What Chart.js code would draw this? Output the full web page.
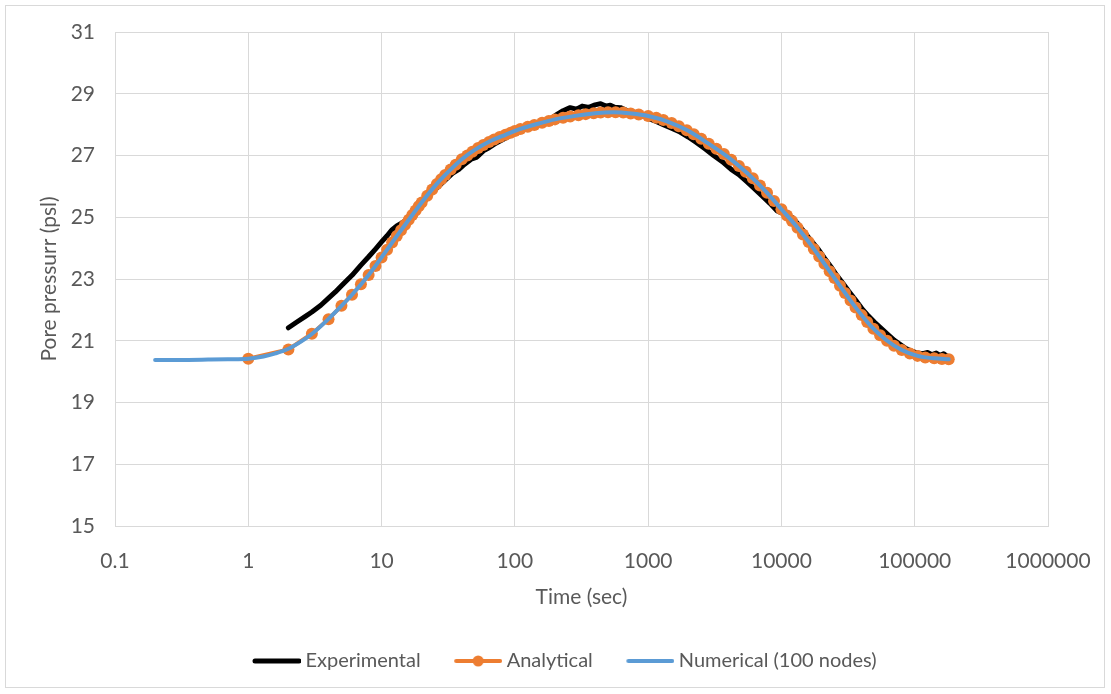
<!DOCTYPE html>
<html>
<head>
<meta charset="utf-8">
<script src="https://cdn.jsdelivr.net/npm/chart.js@4.4.1/dist/chart.umd.min.js"></script>
<style>
  html, body { margin: 0; padding: 0; background: #fff; }
  #frame {
    position: absolute; left: 5px; top: 5px;
    width: 1100px; height: 683px;
    border: 1px solid #d9d9d9; box-sizing: border-box;
  }
  canvas { display: block; }
</style>
</head>
<body>
<div id="frame"><canvas id="chart" width="1098" height="681"></canvas></div>
<script>
// time in seconds, pressure in psi
const experimentalTime = [2, 2.3, 2.7, 3, 3.5, 4, 4.5, 5, 6, 7, 8, 9, 10, 11, 12, 13, 14, 15, 16, 18, 20,
  23, 26, 30, 34, 38, 42, 47, 52, 58, 64, 72, 80, 90, 100, 115, 130, 150, 170, 190, 210, 230, 260, 290,
  320, 360, 400, 440, 480, 520, 560, 620, 700, 800, 900, 1000, 1150, 1300, 1500, 1700, 2000, 2300, 2700,
  3100, 3600, 4200, 4800, 5500, 6300, 7200, 8200, 9300, 10500, 12000, 13500, 15000, 17000, 19000, 21000,
  23500, 26000, 29000, 32000, 36000, 40000, 45000, 50000, 56000, 63000, 70000, 78000, 86000, 95000,
  105000, 115000, 125000, 135000, 145000, 155000, 165000, 175000];
const experimentalPressure = [21.42, 21.6, 21.8, 21.93, 22.15, 22.38, 22.58, 22.78, 23.12, 23.45, 23.72,
  23.97, 24.2, 24.4, 24.6, 24.72, 24.8, 24.88, 24.98, 25.2, 25.42, 25.72, 25.95, 26.2, 26.42, 26.55,
  26.72, 26.88, 26.95, 27.15, 27.25, 27.4, 27.5, 27.62, 27.72, 27.82, 27.9, 28.0, 28.1, 28.22, 28.35,
  28.45, 28.55, 28.5, 28.6, 28.56, 28.64, 28.68, 28.6, 28.63, 28.56, 28.55, 28.45, 28.35, 28.3, 28.2,
  28.1, 28.0, 27.88, 27.78, 27.6, 27.42, 27.2, 27.0, 26.8, 26.55, 26.38, 26.15, 25.92, 25.68, 25.45,
  25.2, 25.1, 25.0, 24.75, 24.5, 24.2, 23.95, 23.68, 23.4, 23.12, 22.85, 22.6, 22.32, 22.05, 21.8,
  21.6, 21.4, 21.2, 21.02, 20.88, 20.75, 20.66, 20.6, 20.58, 20.62, 20.55, 20.6, 20.52, 20.58, 20.5];

const analyticalTime = [1, 2, 3, 4, 5, 6, 7, 8, 9, 10, 11, 12, 13, 14, 15, 16, 17, 18, 19, 20,
  22, 24, 26, 28, 30, 33, 36, 40, 44, 48, 53, 58, 64, 70, 77, 85, 93, 100, 110, 125,
  140, 160, 180, 200, 230, 260, 300, 340, 390, 440, 500, 570, 650, 740, 850,
  1000, 1150, 1300, 1500, 1700, 1950, 2200, 2500, 2850, 3250, 3700, 4200, 4800, 5400, 6100,
  6900, 7800, 8800, 10000, 11000, 12000, 13200, 14500, 16000, 17500, 19200, 21000, 23000, 25000, 27500,
  30000, 33000, 36000, 40000, 44000, 49000, 55000, 62000, 70000, 80000, 92000, 105000, 120000, 140000,
  160000, 180000];
const analyticalPressure = [20.42, 20.72, 21.23, 21.70, 22.13, 22.49, 22.83, 23.13, 23.42, 23.70,
  23.95, 24.18, 24.39, 24.58, 24.76, 24.92, 25.07, 25.22, 25.36, 25.48,
  25.70, 25.90, 26.08, 26.23, 26.37, 26.55, 26.70, 26.88, 27.00, 27.12, 27.24, 27.34, 27.44, 27.52,
  27.60, 27.67, 27.74, 27.79, 27.86, 27.93,
  27.99, 28.06, 28.12, 28.17, 28.22, 28.26, 28.30, 28.34, 28.37, 28.39, 28.40, 28.40, 28.39, 28.36, 28.33,
  28.28, 28.22, 28.15, 28.05, 27.95, 27.82, 27.69, 27.54, 27.38, 27.22, 27.05, 26.86, 26.66, 26.47, 26.26,
  26.03, 25.79, 25.53, 25.26, 25.06, 24.88, 24.66, 24.44, 24.20, 23.97, 23.73, 23.49, 23.25, 23.03, 22.78,
  22.55, 22.30, 22.08, 21.83, 21.61, 21.39, 21.18, 21.00, 20.84, 20.70, 20.59, 20.51, 20.46, 20.43,
  20.41, 20.40];

const numericalTime = [0.2, 0.3, 0.5, 0.7, 1, 1.3, 1.6, 2, 2.5, 3, 4, 5, 6, 8, 10, 13, 16, 20, 25, 30,
  40, 50, 65, 85, 110, 150, 200, 280, 400, 550, 750, 1000, 1400, 2000, 2800, 4000, 5500, 7500, 10000,
  13000, 17000, 22000, 28000, 36000, 47000, 60000, 80000, 105000, 140000, 180000];
const numericalPressure = [20.38, 20.38, 20.39, 20.40, 20.42, 20.49, 20.59, 20.74, 20.98, 21.22,
  21.71, 22.13, 22.49, 23.13, 23.70, 24.39, 24.92, 25.48, 26.0, 26.37, 26.88, 27.18, 27.46, 27.67, 27.86,
  28.03, 28.17, 28.28, 28.37, 28.40, 28.36, 28.28, 28.1, 27.8, 27.4, 26.94, 26.44, 25.87, 25.26, 24.7,
  24.05, 23.37, 22.73, 22.08, 21.47, 21.05, 20.7, 20.51, 20.43, 20.40];

const timeTicks = [0.1, 1, 10, 100, 1000, 10000, 100000, 1000000];
const seriesNames = ["Experimental", "Analytical", "Numerical (100 nodes)"];
const seriesColors = ["#000000", "#ED7D31", "#5B9BD5"];

const FONT = "Lato, 'Open Sans', sans-serif";
const TEXT = "#595959";
const GRID = "#d9d9d9";

const toPoints = (xs, ys) => xs.map((x, i) => ({ x: x, y: ys[i] }));

// legend swatch: 48px line (plus dot for the analytical one), blank lead on the left
function swatch(color, width, dot) {
  const c = document.createElement("canvas");
  c.width = 77;
  c.height = 14;
  const g = c.getContext("2d");
  g.strokeStyle = color;
  g.lineWidth = width;
  g.lineCap = "round";
  g.beginPath();
  g.moveTo(31, 7);
  g.lineTo(75, 7);
  g.stroke();
  if (dot) {
    g.fillStyle = color;
    g.beginPath();
    g.arc(53, 7, 5.5, 0, Math.PI * 2);
    g.fill();
  }
  return c;
}

const legendShift = {
  id: "legendShift",
  afterLayout(chart) {
    if (chart.legend) {
      chart.legend.left += 26;
      chart.legend.right += 26;
    }
  }
};

new Chart(document.getElementById("chart"), {
  type: "line",
  data: {
    datasets: [
      {
        label: seriesNames[0],
        data: toPoints(experimentalTime, experimentalPressure),
        borderColor: seriesColors[0],
        borderWidth: 5,
        pointRadius: 0,
        borderJoinStyle: "round",
        borderCapStyle: "round",
        order: 3
      },
      {
        label: seriesNames[1],
        data: toPoints(analyticalTime, analyticalPressure),
        borderColor: seriesColors[1],
        backgroundColor: seriesColors[1],
        borderWidth: 4,
        pointRadius: 6,
        pointBorderWidth: 0,
        pointBackgroundColor: seriesColors[1],
        order: 2
      },
      {
        label: seriesNames[2],
        data: toPoints(numericalTime, numericalPressure),
        borderColor: seriesColors[2],
        borderWidth: 4,
        pointRadius: 0,
        cubicInterpolationMode: "monotone",
        borderCapStyle: "round",
        order: 1
      }
    ]
  },
  options: {
    responsive: false,
    animation: false,
    layout: { padding: { top: 26, right: 56, bottom: 6, left: 0 } },
    plugins: {
      tooltip: { enabled: false },
      legend: {
        position: "bottom",
        labels: {
          usePointStyle: true,
          pointStyleWidth: 66,
          padding: 10,
          color: TEXT,
          font: { family: FONT, size: 20 },
          generateLabels(chart) {
            return chart.data.datasets.map((ds, i) => ({
              text: ds.label,
              fontColor: TEXT,
              pointStyle: swatch(seriesColors[i], i === 0 ? 5 : 4, i === 1),
              fillStyle: seriesColors[i],
              strokeStyle: seriesColors[i],
              lineWidth: 0,
              hidden: false,
              datasetIndex: i
            }));
          }
        }
      }
    },
    scales: {
      x: {
        type: "logarithmic",
        min: 0.1,
        max: 1000000,
        afterBuildTicks(axis) {
          axis.ticks = timeTicks.map(v => ({ value: v }));
        },
        afterFit(axis) {
          axis.height = 115;
          axis.paddingLeft = 0;
          axis.paddingRight = 0;
        },
        grid: { color: GRID, drawTicks: false },
        border: { color: GRID },
        ticks: {
          padding: 23,
          color: TEXT,
          font: { family: FONT, size: 21 },
          maxRotation: 0,
          autoSkip: false,
          callback: v => String(v)
        },
        title: {
          display: true,
          text: "Time (sec)",
          color: TEXT,
          font: { family: FONT, size: 21 },
          padding: { top: 0, bottom: 31 }
        }
      },
      y: {
        min: 15,
        max: 31,
        afterFit(axis) {
          axis.width = 109;
          axis.paddingTop = 0;
          axis.paddingBottom = 0;
        },
        grid: { color: GRID, drawTicks: false },
        border: { color: GRID },
        ticks: {
          stepSize: 2,
          padding: 20,
          color: TEXT,
          font: { family: FONT, size: 21 }
        },
        title: {
          display: true,
          text: "Pore pressurr (psl)",
          color: TEXT,
          font: { family: FONT, size: 21 },
          padding: { top: 31, bottom: 0 }
        }
      }
    }
  },
  plugins: [legendShift]
});
</script>
</body>
</html>
